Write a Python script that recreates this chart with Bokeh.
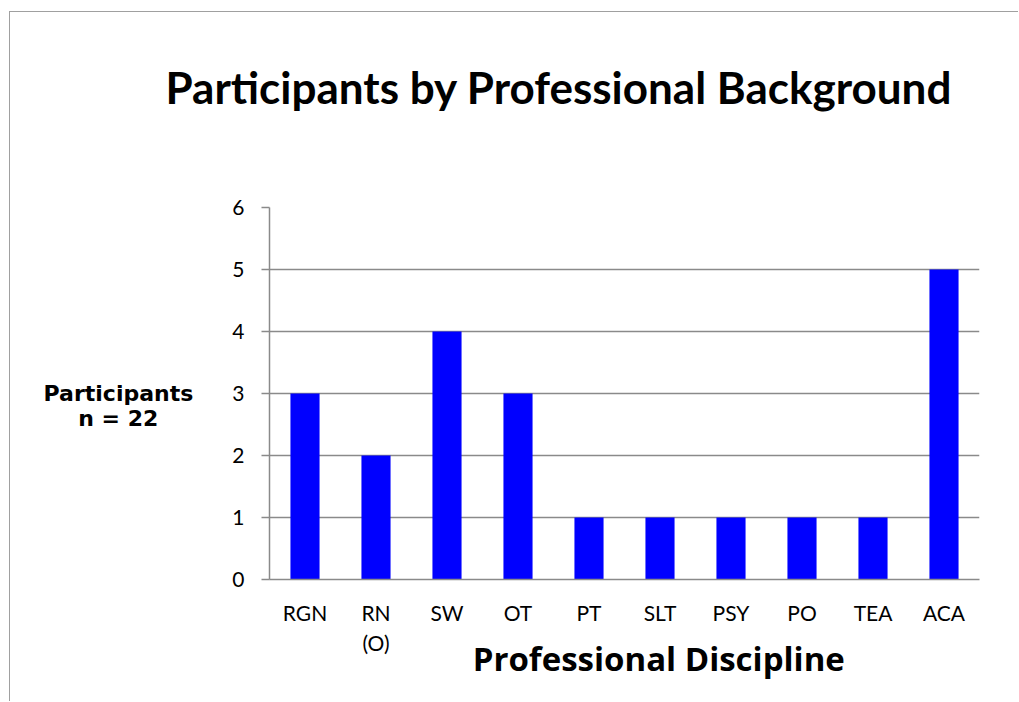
from bokeh.plotting import figure
from bokeh.models import Range1d, Title, ColumnDataSource
from bokeh.embed import file_html
from bokeh.resources import INLINE

categories = ["RGN", "RN\n(O)", "SW", "OT", "PT", "SLT", "PSY", "PO", "TEA", "ACA"]
participants = [3, 2, 4, 3, 1, 1, 1, 1, 1, 5]
y_ticks = [0, 1, 2, 3, 4, 5, 6]

title_text = "Participants by Professional Background"
x_label_text = "Professional Discipline"
y_label_lines = ["Participants", "n = 22"]

GRAY = "#8a8a8a"
NBSP = "\u00a0"

p = figure(x_range=categories, y_range=Range1d(0, 6), width=1009, height=690,
           output_backend="svg", toolbar_location=None,
           min_border_left=259, min_border_right=40, min_border_top=195, min_border_bottom=123)
p.styles = {"margin-left": "9px", "margin-top": "11px",
            "border-left": "1px solid #a0a0a0", "border-top": "1px solid #a0a0a0"}
p.outline_line_color = None
p.background_fill_color = "white"
p.border_fill_color = "white"

src = ColumnDataSource(dict(cat=categories, val=participants))
p.vbar(x="cat", top="val", width=0.41, source=src, fill_color="#0000FF", line_color=None)

p.xgrid.grid_line_color = None
p.ygrid.grid_line_color = GRAY
p.ygrid.grid_line_width = 1.5
p.yaxis.ticker = y_ticks

for ax in (p.xaxis[0], p.yaxis[0]):
    ax.axis_line_color = GRAY
    ax.axis_line_width = 1.5
    ax.major_tick_line_color = GRAY
    ax.major_tick_line_width = 1.5
    ax.minor_tick_line_color = None
    ax.major_label_text_font = "Lato"
    ax.major_label_text_font_size = "21px"
    ax.major_label_text_color = "black"

p.yaxis.major_tick_out = 8
p.yaxis.major_tick_in = 0
p.yaxis.major_label_standoff = 17
p.xaxis.major_tick_out = 0
p.xaxis.major_tick_in = 0
p.xaxis.major_label_standoff = 20

# y-axis label, horizontal (second line padded so it sits centred under the first)
p.yaxis.axis_label = "\n" + y_label_lines[0] + "\n" + y_label_lines[1] + NBSP * 4 + "\u2009"
p.yaxis.axis_label_text_font = "DejaVu Sans"
p.yaxis.axis_label_text_font_style = "bold"
p.yaxis.axis_label_text_font_size = "22px"
p.yaxis.axis_label_text_color = "black"
p.yaxis.axis_label_standoff = 36
try:
    p.yaxis.axis_label_orientation = "horizontal"
except Exception:
    pass
try:
    p.yaxis.axis_label_text_line_height = 1.0
except Exception:
    pass

# x-axis label (leading padding shifts it right of the frame centre)
p.xaxis.axis_label = NBSP * 8 + x_label_text
p.xaxis.axis_label_text_font = "Open Sans"
p.xaxis.axis_label_text_font_style = "bold"
p.xaxis.axis_label_text_font_size = "33px"
p.xaxis.axis_label_text_color = "black"
p.xaxis.axis_label_standoff = -22

t = Title(text=title_text + "\n", align="left", offset=-104, standoff=86,
          text_font="Lato", text_font_style="bold", text_font_size="44px", text_color="black")
p.add_layout(t, "above")

open("out.html", "w").write(file_html(p, INLINE))
